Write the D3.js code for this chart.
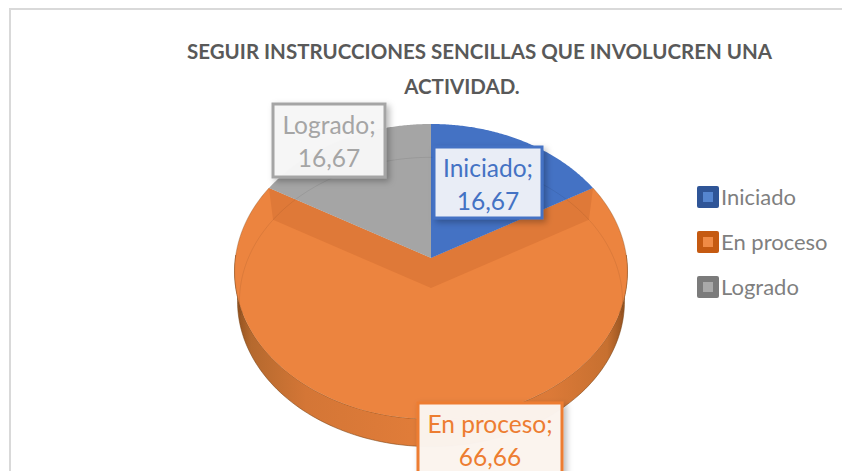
<!DOCTYPE html>
<html><head><meta charset="utf-8">
<script src="https://cdn.jsdelivr.net/npm/d3@7"></script>
<style>html,body{margin:0;padding:0;background:#fff}svg{display:block}</style>
</head><body><svg id="c" width="842" height="471"></svg>
<script>
const categories = ["Iniciado", "En proceso", "Logrado"];
const values = [16.67, 66.66, 16.67];
const valueLabels = ["16,67", "66,66", "16,67"];
const titleLines = ["SEGUIR INSTRUCCIONES SENCILLAS QUE INVOLUCREN UNA", "ACTIVIDAD."];

const face = ["#4472C4", "#EC843F", "#A5A5A5"];
const swatchDark = ["#2F5597", "#C55A11", "#7B7B7B"];
const swatchLight = ["#5585CF", "#F08B45", "#A9A9A9"];
const labelInk = ["#4472C4", "#ED7D31", "#A5A5A5"];
const labelFill = ["#ECF0F8", "#FBF4EF", "#F6F6F6"];
const FONT = "Lato, Carlito, Calibri, sans-serif";

const svg = d3.select("#c");
const defs = svg.append("defs");

// frame
svg.append("rect").attr("x",10).attr("y",9).attr("width",900).attr("height",600)
  .attr("fill","#fff").attr("stroke","#D9D9D9").attr("stroke-width",2);

// perspective projection of the pie disc
const cx = 431, cy = 258, R = 195.6, S = 146.3, k = 0.0915, depth = 30, cut = 30;
const projY = (a, dy = 0, f = 1) => {
  const u = Math.sin(a), v = Math.cos(a), w = 1 + k * v;
  return [cx + f * R * u / w, cy + dy - f * S * v / w];
};
const arcs = d3.pie().sort(null).value(d => d)(values);
const line = d3.line().curve(d3.curveLinear);
const samples = (a0, a1, dy = 0, f = 1) =>
  d3.range(0, 121).map(i => projY(a0 + (a1 - a0) * i / 120, dy, f));

const sideGrad = defs.append("linearGradient").attr("id","side")
  .attr("gradientUnits","userSpaceOnUse").attr("x1",cx-R).attr("x2",cx+R).attr("y1",0).attr("y2",0);
[[0,"#8F4F1E"],[0.04,"#B5692E"],[0.18,"#D47636"],[0.45,"#E07C39"],[0.8,"#DC7A38"],[0.95,"#C77030"],[1,"#8F4F1E"]]
  .forEach(([o,c]) => sideGrad.append("stop").attr("offset",o).attr("stop-color",c));

const shadow = defs.append("filter").attr("id","sh").attr("x","-20%").attr("y","-20%").attr("width","150%").attr("height","150%");
shadow.append("feDropShadow").attr("dx",3).attr("dy",3).attr("stdDeviation",3)
  .attr("flood-color","#000").attr("flood-opacity",0.28);

const orange = arcs[1];

// side wall: lower rim joined to upper rim
const sidePts = samples(Math.PI/2 - 0.02, 3*Math.PI/2 + 0.02, depth, 0.985)
  .concat(samples(3*Math.PI/2 + 0.02, Math.PI/2 - 0.02, 0));
svg.append("path").attr("d", line(sidePts) + "Z").attr("fill","url(#side)")
  .attr("stroke","#7A4416").attr("stroke-width",0.8).attr("stroke-opacity",0.7);

// orange top face
svg.append("path")
  .attr("d", line([[cx,cy]].concat(samples(orange.startAngle, orange.endAngle))) + "Z")
  .attr("fill", face[1]);

// thin outline on the orange upper rim
[[orange.startAngle, Math.PI*0.62],[Math.PI*1.38, orange.endAngle]].forEach(([a,b]) => {
  svg.append("path").attr("d", line(samples(a, b)))
    .attr("fill","none").attr("stroke","#8F4F1E").attr("stroke-opacity",0.5).attr("stroke-width",0.8);
});

// cut faces of the orange slice
const p0 = projY(orange.startAngle), p1 = projY(orange.endAngle);
svg.append("path")
  .attr("d", line([p0,[cx,cy],p1,projY(orange.endAngle,cut,0.975),[cx,cy+cut],projY(orange.startAngle,cut,0.975)]) + "Z")
  .attr("fill","#DF7938");

// blue and gray faces
[0,2].forEach(i => {
  svg.append("path")
    .attr("d", line([[cx,cy]].concat(samples(arcs[i].startAngle, arcs[i].endAngle))) + "Z")
    .attr("fill", face[i]);
});

// faint inner ring
svg.append("path")
  .attr("d", line(samples(-Math.PI*0.56, Math.PI*0.56, cut, 0.975)))
  .attr("fill","none").attr("stroke","#000").attr("stroke-opacity",0.09).attr("stroke-width",0.8);

// title
svg.append("g").selectAll("text").data(titleLines).join("text")
  .attr("x",(d,i) => i ? 462 : 479.5).attr("y",(d,i) => 59 + i*35)
  .attr("text-anchor","middle").attr("font-family",FONT).attr("font-weight",700)
  .attr("font-size",20.5).attr("fill","#595959").text(d => d);

// data labels: box [left, top, right, bottom]
const boxes = [[434,147,542,218],[418,403,562,500],[273,104,385,177]];
categories.forEach((c,i) => {
  const b = boxes[i], mid = (b[0]+b[2])/2;
  const g = svg.append("g");
  g.append("rect").attr("x",b[0]).attr("y",b[1]).attr("width",b[2]-b[0]).attr("height",b[3]-b[1])
    .attr("fill",labelFill[i]).attr("fill-opacity",0.98).attr("stroke",labelInk[i]).attr("stroke-width",3)
    .attr("filter","url(#sh)");
  g.append("text").attr("x",mid).attr("y",b[1]+30).attr("text-anchor","middle").attr("font-family",FONT)
    .attr("font-size",24.5).attr("fill",labelInk[i]).text(c + ";");
  g.append("text").attr("x",mid).attr("y",b[1]+62.5).attr("text-anchor","middle").attr("font-family",FONT)
    .attr("font-size",24.5).attr("fill",labelInk[i]).text(valueLabels[i]);
});

// legend
const legY = d3.scalePoint().domain(categories).range([186,276]);
const leg = svg.append("g").selectAll("g").data(categories).join("g")
  .attr("transform", d => `translate(697,${legY(d)})`);
leg.append("rect").attr("width",22).attr("height",22).attr("rx",2).attr("fill",(d,i) => swatchDark[i]);
leg.append("rect").attr("x",6).attr("y",6).attr("width",10).attr("height",10).attr("fill",(d,i) => swatchLight[i]);
leg.append("text").attr("x",24).attr("y",19).attr("font-family",FONT).attr("font-size",22)
  .attr("fill","#7F7F7F").text(d => d);
</script></body></html>
